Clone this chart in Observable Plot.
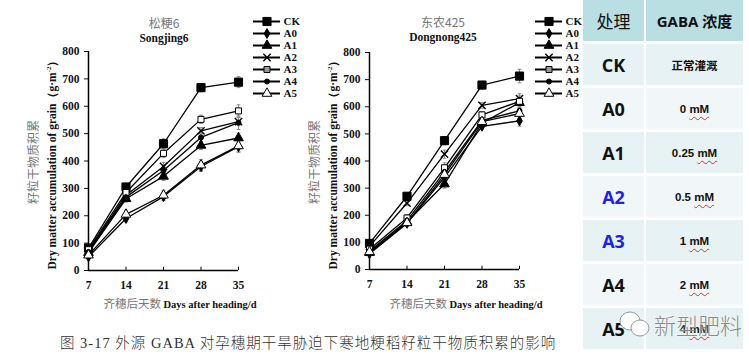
<!DOCTYPE html>
<html><head><meta charset="utf-8">
<script src="https://cdn.jsdelivr.net/npm/d3@7"></script>
<script src="https://cdn.jsdelivr.net/npm/@observablehq/plot@0.6"></script>
<style>
body{margin:0;background:#fff;}
#root{position:relative;width:749px;height:357px;overflow:hidden;background:#fff;font-family:"Liberation Serif","Noto Sans CJK SC",serif;}
.abs{position:absolute;white-space:nowrap;}
.zh{font-family:"Noto Sans CJK SC",sans-serif;color:#777;font-weight:normal;}
.en{font-family:"Liberation Serif",serif;font-weight:bold;color:#111;}
.rot{transform:translate(-50%,-50%) rotate(-90deg);display:flex;flex-direction:column;align-items:center;}
.ctr{transform:translate(-50%,-50%);text-align:center;}
#table{position:absolute;left:583px;top:0;width:160px;display:grid;grid-template-columns:61px 97px;column-gap:2px;row-gap:3px;grid-template-rows:41px repeat(7,41px);background:#fff;z-index:5;}
#table > div{display:flex;align-items:center;justify-content:center;}
.h{background:#b9dfe3;}
.r1{background:#e7f2f4;}
.r2{background:#f1f7f8;}
.lab{font-family:"Open Sans","Liberation Sans",sans-serif;font-weight:bold;font-size:18px;color:#111;}
.val{font-family:"Liberation Sans","Noto Sans CJK SC",sans-serif;font-weight:bold;font-size:11.5px;color:#111;}
.wavy{text-decoration:underline wavy #e03030;text-decoration-thickness:1px;text-underline-offset:3px;}
</style></head><body><div id="root"></div>
<script>
const days = [7, 14, 21, 28, 35];
const treatments = ["CK", "A0", "A1", "A2", "A3", "A4", "A5"];
const yTicks = [0, 100, 200, 300, 400, 500, 600, 700, 800];
const gabaLevels = ["正常灌溉", "0 mM", "0.25 mM", "0.5 mM", "1 mM", "2 mM", "4 mM"];

// Songjing6 (松粳6)
const sjCK = [82, 305, 463, 668, 688];
const sjA0 = [50, 190, 270, 380, 452];
const sjA1 = [65, 262, 344, 457, 484];
const sjA2 = [72, 275, 380, 510, 544];
const sjA3 = [76, 285, 428, 552, 583];
const sjA4 = [68, 268, 365, 486, 540];
const sjA5 = [56, 205, 275, 385, 455];
const sjErrCK = [10, 12, 18, 15, 20];
const sjErrA0 = [6, 12, 15, 18, 20];
const sjErrA1 = [8, 12, 15, 15, 18];
const sjErrA2 = [8, 10, 15, 12, 15];
const sjErrA3 = [8, 10, 15, 15, 22];
const sjErrA4 = [8, 10, 15, 15, 25];
const sjErrA5 = [6, 15, 18, 20, 22];

// Dongnong425 (东农425)
const dnCK = [96, 270, 475, 680, 713];
const dnA0 = [58, 170, 340, 528, 548];
const dnA1 = [62, 175, 315, 540, 615];
const dnA2 = [85, 245, 425, 605, 630];
const dnA3 = [75, 190, 375, 570, 620];
const dnA4 = [68, 180, 360, 550, 585];
const dnA5 = [65, 172, 350, 545, 575];
const dnErrCK = [8, 12, 15, 8, 25];
const dnErrA0 = [6, 10, 15, 10, 20];
const dnErrA1 = [6, 10, 15, 10, 18];
const dnErrA2 = [6, 10, 15, 10, 18];
const dnErrA3 = [6, 12, 18, 12, 20];
const dnErrA4 = [6, 10, 15, 10, 18];
const dnErrA5 = [6, 10, 15, 10, 18];

const sym = {
  CK: {symbol: "square", fill: "#000", r: 4.6},
  A0: {symbol: "diamond", fill: "#000", r: 3},
  A1: {symbol: "triangle", fill: "#000", r: 3.6},
  A2: {symbol: "times", fill: "none", r: 3.4},
  A3: {symbol: "square", fill: "#fff", r: 3.4},
  A4: {symbol: "circle", fill: "#000", r: 2.5},
  A5: {symbol: "triangle", fill: "#fff", r: 3.6}
};

const root = document.getElementById("root");
function place(el, left, top) {
  const d = document.createElement("div");
  d.className = "abs"; d.style.left = left + "px"; d.style.top = top + "px";
  d.appendChild(el); root.appendChild(d); return d;
}
function html(h, style, cls) {
  const d = document.createElement("div");
  d.className = "abs " + (cls || ""); d.innerHTML = h;
  Object.assign(d.style, style); root.appendChild(d); return d;
}

function chart(series, errs, mt) {
  const marks = [];
  const rowsAll = treatments.map((t, i) => days.map((d, j) => ({t, day: d, v: series[i][j], e: errs[i][j]})));
  rowsAll.forEach(rows => {
    marks.push(Plot.ruleX(rows, {x: "day", y1: d => d.v - d.e, y2: d => d.v + d.e, stroke: "#8a8a8a", strokeWidth: 1}));
    marks.push(Plot.link(rows, {x1: d => d.day - 0.35, x2: d => d.day + 0.35, y1: d => d.v + d.e, y2: d => d.v + d.e, stroke: "#8a8a8a"}));
    marks.push(Plot.link(rows, {x1: d => d.day - 0.35, x2: d => d.day + 0.35, y1: d => d.v - d.e, y2: d => d.v - d.e, stroke: "#8a8a8a"}));
  });
  rowsAll.forEach(rows => marks.push(Plot.line(rows, {x: "day", y: "v", stroke: "#000", strokeWidth: 1.3})));
  rowsAll.forEach((rows, i) => {
    const s = sym[treatments[i]];
    marks.push(Plot.dot(rows, {x: "day", y: "v", symbol: s.symbol, r: s.r, fill: s.fill, stroke: "#000", strokeWidth: s.symbol === "times" ? 1.4 : 1}));
  });
  return Plot.plot({
    width: 258, height: 320,
    marginLeft: 88, marginRight: 20, marginTop: mt, marginBottom: 320 - 270 + (mt - 51),
    x: {domain: [7, 35]},
    y: {domain: [0, 800]},
    style: {fontFamily: "Liberation Serif", fontWeight: "bold", fontSize: "11.5px", color: "#111", background: "transparent", overflow: "visible"},
    marks: [
      Plot.axisY({ticks: yTicks, tickSize: 4, tickPadding: 5, label: null}),
      Plot.axisX({ticks: days, tickSize: 0, tickPadding: 10, label: null}),
      Plot.ruleX(days.slice(1), {y1: 0, y2: 12, stroke: "#000", strokeWidth: 1}),
      Plot.ruleY([0], {stroke: "#000", strokeWidth: 1.5}),
      Plot.ruleX([7], {stroke: "#000", strokeWidth: 1.5}),
      ...marks
    ]
  });
}

function legend() {
  const rows = treatments.map(t => ({t}));
  return Plot.plot({
    width: 80, height: 112, margin: 0,
    x: {domain: [0, 1], range: [3, 30]},
    y: {type: "point", domain: treatments, range: [12, 102]},
    axis: null,
    style: {fontFamily: "Liberation Serif", fontWeight: "bold", fontSize: "11px", color: "#111", background: "transparent", overflow: "visible"},
    marks: [
      Plot.ruleY(rows, {y: "t", x1: 0, x2: 1, stroke: "#000", strokeWidth: 2}),
      ...treatments.map(t => Plot.dot([{t}], {x: 0.5, y: "t", symbol: sym[t].symbol, r: sym[t].r, fill: sym[t].fill === "#fff" ? (t === "A3" ? "#999" : "#fff") : sym[t].fill, stroke: "#000", strokeWidth: sym[t].symbol === "times" ? 1.4 : 1})),
      Plot.text(rows, {x: 1, y: "t", text: "t", textAnchor: "start", dx: 3, fill: "#111"})
    ]
  });
}

const yLabel = '<div class="zh" style="font-size:12px;line-height:16px">籽粒干物质积累</div><div class="en" style="font-size:11.5px;line-height:17px">Dry matter accumulation of grain（g·m<sup style="font-size:7px">-2</sup>）</div>';
const xLabel = '<span class="zh" style="font-size:11.5px">齐穗后天数 </span><span class="en" style="font-size:10.5px">Days after heading/d</span>';

// left chart
place(chart([sjCK, sjA0, sjA1, sjA2, sjA3, sjA4, sjA5], [sjErrCK, sjErrA0, sjErrA1, sjErrA2, sjErrA3, sjErrA4, sjErrA5], 51), 0, 0);
place(legend(), 250, 0);
html('<span class="zh" style="font-size:12px">松粳6</span>', {left: "164px", top: "23px"}, "ctr");
html('<span class="en" style="font-size:11.5px">Songjing6</span>', {left: "164px", top: "37px"}, "ctr");
html(yLabel, {left: "43px", top: "162px"}, "rot");
html(xLabel, {left: "180px", top: "303px"}, "ctr");

// right chart
place(chart([dnCK, dnA0, dnA1, dnA2, dnA3, dnA4, dnA5], [dnErrCK, dnErrA0, dnErrA1, dnErrA2, dnErrA3, dnErrA4, dnErrA5], 52), 281, 0);
place(legend(), 532, 0);
html('<span class="zh" style="font-size:12px">东农425</span>', {left: "443px", top: "22px"}, "ctr");
html('<span class="en" style="font-size:11.5px">Dongnong425</span>', {left: "443px", top: "36px"}, "ctr");
html(yLabel, {left: "324px", top: "162px"}, "rot");
html(xLabel, {left: "466px", top: "303px"}, "ctr");

// caption
html('图 3-17 外源 GABA 对孕穗期干旱胁迫下寒地粳稻籽粒干物质积累的影响', {left: "60px", top: "331px", fontSize: "14.5px", color: "#333", fontFamily: '"Liberation Serif","Noto Sans CJK SC",serif', letterSpacing: "1px", fontWeight: "300"});

// table
const tb = document.createElement("div");
tb.id = "table";
let th = '<div class="h" style="font-family:\'Noto Sans CJK SC\';font-size:17px;color:#111"><span>处理</span></div><div class="h" style="font-family:\'Open Sans\',\'Noto Sans CJK SC\';font-weight:bold;font-size:15px;color:#111"><span>GABA 浓度</span></div>';
treatments.forEach((t, i) => {
  const cls = i % 2 === 0 ? "r1" : "r2";
  const col = (t === "A2" || t === "A3") ? "#1e22e6" : "#111";
  const v = gabaLevels[i];
  const vHtml = v.endsWith(" mM") ? v.replace(" mM", ' <span class="wavy">mM</span>') : v;
  th += `<div class="${cls} lab" style="color:${col}"><span>${t}</span></div><div class="${cls} val"><span style="white-space:pre">${vHtml}</span></div>`;
});
tb.innerHTML = th;
root.appendChild(tb);

// watermark
html('<svg width="36" height="30"><ellipse cx="13" cy="12" rx="10" ry="9" fill="#fff" stroke="#999" stroke-width="1"/><ellipse cx="23" cy="19" rx="9" ry="8" fill="#fff" stroke="#999" stroke-width="1"/></svg>', {left: "617px", top: "309px", zIndex: 6});
html('新型肥料', {left: "654px", top: "308px", fontSize: "22px", color: "#8a8a8a", fontFamily: '"Noto Sans CJK SC",sans-serif', fontWeight: "300", zIndex: 6, textShadow: "0 0 2px #fff"});
</script></body></html>
